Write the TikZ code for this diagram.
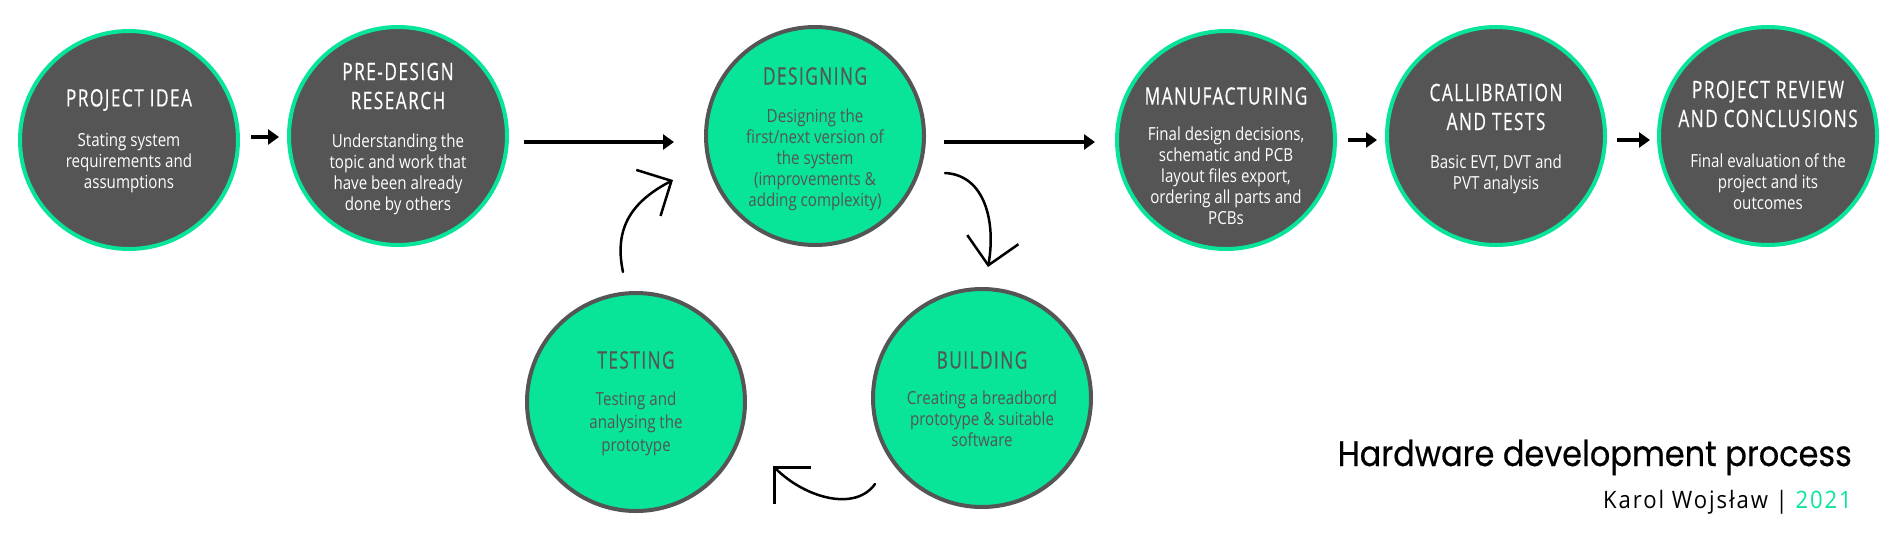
\documentclass[tikz,border=0pt]{standalone}
\usepackage{fontspec}
\usetikzlibrary{arrows.meta}
\newfontfamily\headfont[FakeStretch=0.72,LetterSpace=6,FakeBold=0.4]{Open Sans}
\newfontfamily\bodyfont[FakeStretch=0.84]{Open Sans}
\newfontfamily\creditfont[FakeStretch=0.92,LetterSpace=8]{Open Sans}
\newfontfamily\titlefont[FakeStretch=0.9,FakeBold=0.5]{Poppins}
\definecolor{mint}{HTML}{08E598}
\definecolor{slate}{HTML}{555555}
\begin{document}
\begin{tikzpicture}[x=1pt,y=-1pt]
	\tikzset{stage/.style = {shape=circle,line width=4pt,minimum size=218pt,inner sep=0pt}}
	\tikzset{dark/.style = {stage,fill=slate,draw=mint}}
	\tikzset{light/.style = {stage,fill=mint,draw=slate}}
	\tikzset{head/.style = {font=\headfont\fontsize{24}{29}\selectfont,align=center,inner sep=0pt}}
	\tikzset{body/.style = {font=\bodyfont\fontsize{18}{21}\selectfont,align=center,inner sep=0pt}}
	\tikzset{flow/.style = {-{Triangle[length=11pt,width=15pt]},line width=4.5pt}}
	\tikzset{sketch/.style = {-{Straight Barb[length=26pt,width=52pt]},line width=2.5pt,line cap=round}}
	\useasboundingbox (0,0) rectangle (1900,550);
	% stages
	\node[dark] (idea) at (129,140) {};
	\node[dark] (research) at (398,136) {};
	\node[light] (designing) at (815,136) {};
	\node[dark] (manufacturing) at (1226,140) {};
	\node[dark] (calibration) at (1496,136) {};
	\node[dark] (review) at (1768,136) {};
	\node[light] (building) at (982,398) {};
	\node[light] (testing) at (636,402) {};
	% texts
	\node[head,text=white] (idea-head) at (129,100) {PROJECT IDEA};
	\node[body,text=white] (idea-body) at (129,163) {Stating system\\requirements and\\assumptions};
	\node[head,text=white] (research-head) at (398,86) {PRE-DESIGN\\RESEARCH};
	\node[body,text=white] (research-body) at (398,174) {Understanding the\\topic and work that\\have been already\\done by others};
	\node[head,text=slate] (designing-head) at (815,76) {DESIGNING};
	\node[body,text=slate] (designing-body) at (815,160) {Designing the\\first/next version of\\the system\\(improvements \&\\adding complexity)};
	\node[head,text=white] (manufacturing-head) at (1226,96) {MANUFACTURING};
	\node[body,text=white] (manufacturing-body) at (1226,176) {Final design decisions,\\schematic and PCB\\layout files export,\\ordering all parts and\\PCBs};
	\node[head,text=white] (calibration-head) at (1496,107) {CALLIBRATION\\AND TESTS};
	\node[body,text=white] (calibration-body) at (1496,174) {Basic EVT, DVT and\\PVT analysis};
	\node[head,text=white] (review-head) at (1768,104) {PROJECT REVIEW\\AND CONCLUSIONS};
	\node[body,text=white] (review-body) at (1768,182) {Final evaluation of the\\project and its\\outcomes};
	\node[head,text=slate] (building-head) at (982,360) {BUILDING};
	\node[body,text=slate] (building-body) at (982,419) {Creating a breadbord\\prototype \& suitable\\software};
	\node[head,text=slate] (testing-head) at (636,360) {TESTING};
	\node[body,text=slate,font=\bodyfont\fontsize{18}{23}\selectfont] (testing-body) at (636,424) {Testing and\\analysing the\\prototype};
	% main flow
	\draw[flow,shorten <=11pt,shorten >=8pt] (idea.east |- 0,137) -- (research.west |- 0,137);
	\draw[flow,shorten <=15pt,shorten >=30pt] (research.east |- 0,142) -- (designing.west |- 0,142);
	\draw[flow,shorten <=18pt,shorten >=20pt] (designing.east |- 0,142) -- (manufacturing.west |- 0,142);
	\draw[flow,shorten <=11pt,shorten >=8pt] (manufacturing.east |- 0,140) -- (calibration.west |- 0,140);
	\draw[flow,shorten <=10pt,shorten >=7pt] (calibration.east |- 0,140) -- (review.west |- 0,140);
	% iteration loop
	\coordinate (designing-out) at (945,173);
	\coordinate (building-in) at (988,267);
	\coordinate (building-out) at (875,484);
	\coordinate (testing-in) at (773,466);
	\coordinate (testing-out) at (623,272);
	\coordinate (designing-in) at (673,180);
	\draw[sketch] (designing-out) .. controls (985,175) and (996,222) .. (building-in);
	\draw[sketch] (building-out) .. controls (855,512) and (805,498) .. (testing-in);
	\draw[sketch] (testing-out) .. controls (613,225) and (635,200) .. (designing-in);
	% title
	\node[anchor=base east,inner sep=0pt,font=\titlefont\fontsize{35.5}{40}\selectfont] (title) at (1852,466) {Hardware development process};
	\node[anchor=base east,inner sep=0pt,font=\creditfont\fontsize{24}{28}\selectfont] (credit) at (1852,508) {Karol Wojsław | \textcolor{mint}{2021}};
\end{tikzpicture}
\end{document}
